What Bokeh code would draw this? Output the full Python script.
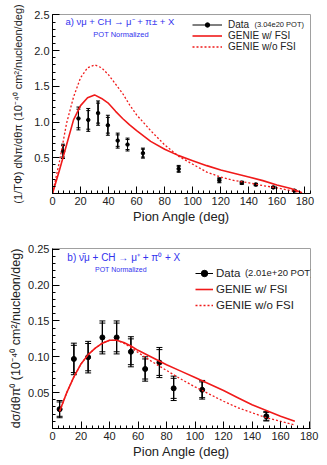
import numpy as np
from bokeh.plotting import figure
from bokeh.layouts import column
from bokeh.models import (Range1d, Label, Legend, LegendItem, Whisker, TeeHead,
                          ColumnDataSource, FixedTicker, PrintfTickFormatter)
from bokeh.embed import file_html
from bokeh.resources import INLINE

# ---------------- Panel a: charged pion ----------------
a_angle = [7.5, 18.5, 25.5, 32.5, 39.5, 46.5, 53.5, 64.5, 90, 119, 135, 145, 157.5, 172.5]
a_xsec = [0.59, 1.05, 1.03, 1.125, 0.955, 0.74, 0.685, 0.565, 0.345, 0.185, 0.15, 0.125, 0.085, 0.04]
a_err_tot = [0.10, 0.16, 0.16, 0.17, 0.14, 0.105, 0.09, 0.07, 0.048, 0.035, 0.022, 0.018, 0.015, 0.012]
a_err_stat = [0.08, 0.13, 0.13, 0.14, 0.11, 0.08, 0.07, 0.055, 0.035, 0.025, 0.016, 0.013, 0.011, 0.009]

a_curve_x = [0, 5, 10, 15, 20, 25, 30, 35, 40, 45, 50, 55, 60, 70, 80, 90, 100, 110, 120, 130, 140, 150, 160, 170, 178]
a_fsi = [0.0, 0.33, 0.68, 1.03, 1.23, 1.34, 1.38, 1.33, 1.26, 1.15, 1.05, 0.96, 0.88, 0.73, 0.62, 0.53,
         0.46, 0.39, 0.33, 0.28, 0.23, 0.18, 0.12, 0.07, 0.01]
a_nofsi = [0.0, 0.45, 0.98, 1.35, 1.62, 1.76, 1.80, 1.76, 1.66, 1.53, 1.40, 1.24, 1.10, 0.88, 0.68, 0.52,
           0.41, 0.30, 0.23, 0.18, 0.15, 0.11, 0.08, 0.04, 0.01]

# ---------------- Panel b: neutral pion ----------------
b_angle = [5, 15, 25, 35, 45, 55, 65, 75, 85, 105, 150]
b_xsec = [0.027, 0.097, 0.0995, 0.127, 0.127, 0.107, 0.083, 0.092, 0.056, 0.054, 0.017]
b_err_tot = [0.012, 0.022, 0.022, 0.023, 0.023, 0.021, 0.017, 0.021, 0.017, 0.013, 0.0065]
b_err_stat = [0.010, 0.019, 0.019, 0.020, 0.020, 0.018, 0.014, 0.018, 0.014, 0.011, 0.0055]

b_curve_x = [5, 10, 15, 20, 25, 30, 35, 40, 45, 50, 55, 60, 70, 80, 90, 100, 110, 120, 130, 140, 150, 160, 170]
b_fsi = [0.024, 0.05, 0.072, 0.09, 0.103, 0.112, 0.119, 0.123, 0.123, 0.12, 0.115, 0.109, 0.099, 0.089,
         0.08, 0.071, 0.062, 0.053, 0.043, 0.033, 0.025, 0.017, 0.010]
b_nofsi = [0.024, 0.05, 0.072, 0.09, 0.103, 0.112, 0.119, 0.123, 0.123, 0.119, 0.113, 0.106, 0.093, 0.081,
           0.069, 0.058, 0.048, 0.038, 0.029, 0.022, 0.015, 0.010, 0.005]

x_ticks = [0, 20, 40, 60, 80, 100, 120, 140, 160, 180]
a_y_ticks = [0.5, 1.0, 1.5, 2.0, 2.5]
b_y_ticks = [0.05, 0.10, 0.15, 0.20, 0.25]

RED = "#f01a1a"
BLUE = "#3333ee"
FONT = "Liberation Sans"
TXT = "#222222"


def make_fig(height, xr, yr, bl, br, bt, bb, yt, ymin_step, yfmt, ylabel, ylsize, ylstand):
    p = figure(width=327, height=height, x_range=Range1d(*xr), y_range=Range1d(*yr),
               output_backend="svg", toolbar_location=None,
               min_border_left=bl, min_border_right=br, min_border_top=bt, min_border_bottom=bb)
    p.grid.visible = False
    p.outline_line_color = "#a0a0a0"
    p.xaxis.ticker = FixedTicker(ticks=x_ticks, minor_ticks=list(np.arange(0, 184.1, 4)))
    p.yaxis.ticker = FixedTicker(ticks=yt, minor_ticks=list(np.arange(0, yr[1] + 1e-9, ymin_step)))
    p.yaxis.formatter = PrintfTickFormatter(format=yfmt)
    for ax in (p.xaxis[0], p.yaxis[0]):
        ax.major_tick_in = 7
        ax.major_tick_out = 0
        ax.minor_tick_in = 3
        ax.minor_tick_out = 0
        ax.axis_line_color = "black"
        ax.major_tick_line_color = "black"
        ax.minor_tick_line_color = "black"
        ax.major_label_text_font = FONT
        ax.major_label_text_font_size = "11px"
        ax.major_label_text_color = TXT
        ax.major_label_standoff = 3
        ax.axis_label_text_font = FONT
        ax.axis_label_text_font_style = "normal"
        ax.axis_label_text_color = TXT
    p.xaxis.axis_label = "Pion Angle (deg)"
    p.xaxis.axis_label_text_font_size = "13px"
    p.xaxis.axis_label_standoff = 1
    p.yaxis.axis_label = ylabel
    p.yaxis.axis_label_text_font_size = ylsize
    p.yaxis.axis_label_standoff = ylstand
    return p


def add_data(p, ang, val, etot, estat, cap, msize):
    lo_t = [v - e for v, e in zip(val, etot)]
    hi_t = [v + e for v, e in zip(val, etot)]
    lo_s = [v - e for v, e in zip(val, estat)]
    hi_s = [v + e for v, e in zip(val, estat)]
    src = ColumnDataSource(dict(x=ang, y=val, lo_t=lo_t, hi_t=hi_t, lo_s=lo_s, hi_s=hi_s))
    seg = p.segment(x0="x", y0="lo_t", x1="x", y1="hi_t", source=src, line_color="black", line_width=1)
    for lo, hi in (("lo_t", "hi_t"), ("lo_s", "hi_s")):
        w = Whisker(base="x", lower=lo, upper=hi, source=src, line_color="black", line_width=1,
                    upper_head=TeeHead(size=cap, line_color="black", line_width=1),
                    lower_head=TeeHead(size=cap, line_color="black", line_width=1))
        p.add_layout(w)
    sc = p.scatter(x="x", y="y", source=src, size=msize, color="black")
    return seg, sc


def lab(p, x, y, text, size, color=TXT, align="left"):
    p.add_layout(Label(x=x, y=y, text=text, text_font=FONT, text_font_size=size,
                       text_color=color, text_align=align, text_baseline="middle"))


# ---------------- top figure ----------------
ylab_a = "(1/T\u03a6) dN\u03c0/d\u03b8\u03c0 (10\u207b\u2074\u2070 cm\u00b2/nucleon/deg)"
p1 = make_fig(230, (0, 184), (0, 2.505), 52, 16, 14, 37, a_y_ticks, 0.1, "%.1f", ylab_a, "11px", 7)
seg1, sc1 = add_data(p1, a_angle, a_xsec, a_err_tot, a_err_stat, 4, 3.5)
l1 = p1.line(a_curve_x, a_fsi, line_color=RED, line_width=1.6)
l2 = p1.line(a_curve_x, a_nofsi, line_color=RED, line_width=1.3, line_dash="2 2")

leg1 = Legend(items=[LegendItem(label="Data", renderers=[seg1, sc1]),
                     LegendItem(label="GENIE w/ FSI", renderers=[l1]),
                     LegendItem(label="GENIE w/o FSI", renderers=[l2])],
              location=(140, 141), glyph_width=30, glyph_height=11, label_height=11,
              spacing=0, padding=0, margin=0, label_standoff=6,
              label_text_font=FONT, label_text_font_size="10px", label_text_color=TXT,
              border_line_alpha=0, background_fill_alpha=0)
p1.add_layout(leg1)
lab(p1, 144.0, 2.365, "(3.04e20 POT)", "7.5px")
lab(p1, 9.2, 2.41, "a)  \u03bd\u03bc + CH \u2192 \u03bc\u207b + \u03c0\u00b1 + X", "9.5px", BLUE)
lab(p1, 29.1, 2.225, "POT Normalized", "7.5px", BLUE)

# ---------------- bottom figure ----------------
ylab_b = "d\u03c3/d\u03b8\u03c0\u2070 (10\u207b\u2074\u2070 cm\u00b2/nucleon/deg)"
p2 = make_fig(235, (0, 181), (0, 0.251), 49, 17, 18, 37, b_y_ticks, 0.01, "%.2f", ylab_b, "12.5px", 2)
seg2, sc2 = add_data(p2, b_angle, b_xsec, b_err_tot, b_err_stat, 6, 5)
m1 = p2.line(b_curve_x, b_fsi, line_color=RED, line_width=1.6)
m2 = p2.line(b_curve_x, b_nofsi, line_color=RED, line_width=1.3, line_dash="2 2")

leg2 = Legend(items=[LegendItem(label="Data", renderers=[seg2, sc2]),
                     LegendItem(label="GENIE w/ FSI", renderers=[m1]),
                     LegendItem(label="GENIE w/o FSI", renderers=[m2])],
              location=(143, 115), glyph_width=18, glyph_height=16, label_height=16,
              spacing=0, padding=0, margin=0, label_standoff=3,
              label_text_font=FONT, label_text_font_size="11.5px", label_text_color=TXT,
              border_line_alpha=0, background_fill_alpha=0)
p2.add_layout(leg2)
lab(p2, 135.0, 0.2175, "(2.01e+20 POT)", "9.5px")
lab(p2, 10.4, 0.2385, "b)  \u03bd\u0304\u03bc + CH \u2192 \u03bc\u207a + \u03c0\u2070 + X", "10px", BLUE)
lab(p2, 29.8, 0.2217, "POT Normalized", "7px", BLUE)

layout = column(p1, p2, spacing=0)
open("out.html", "w").write(file_html(layout, INLINE))
